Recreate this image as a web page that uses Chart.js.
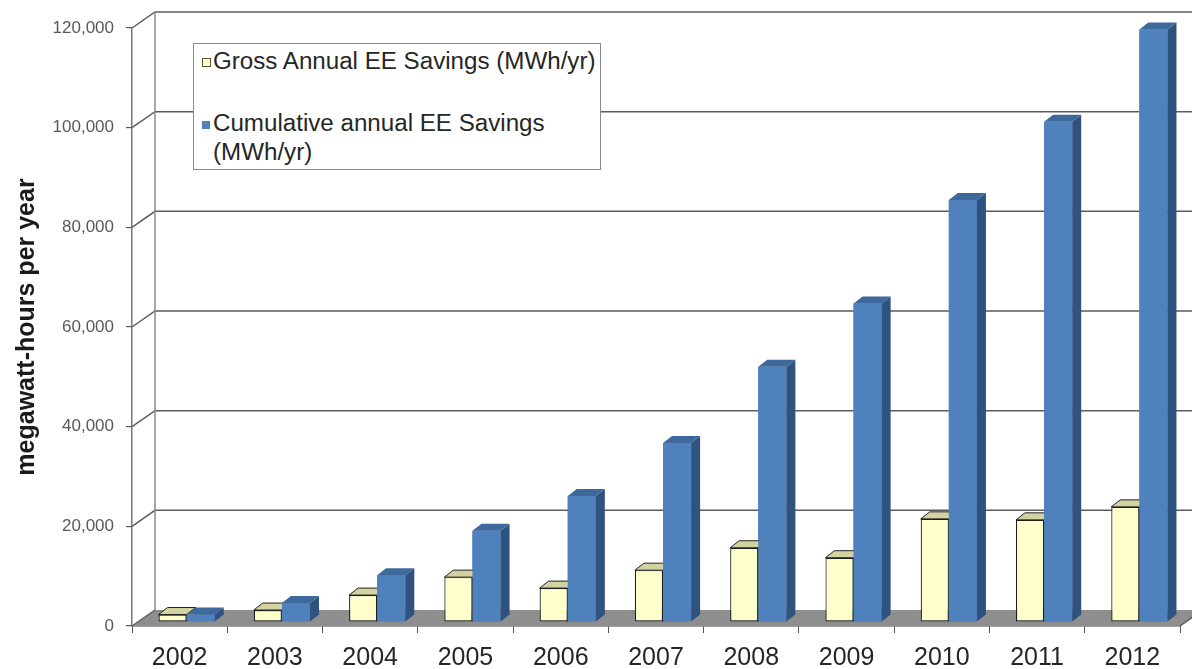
<!DOCTYPE html>
<html>
<head>
<meta charset="utf-8">
<script src="https://cdn.jsdelivr.net/npm/chart.js@4.4.1/dist/chart.umd.min.js"></script>
<style>
  html, body { margin: 0; padding: 0; background: #ffffff; }
  #wrap { position: relative; width: 1192px; height: 669px; overflow: hidden; }
  #c { position: absolute; left: 0; top: 0; }
  .legend { position: absolute; left: 193px; top: 43px; width: 406px; height: 125px;
            border: 1px solid #8a8a8a; background: #ffffff; }
  .sw { position: absolute; width: 7px; height: 7px; }
  .lt { position: absolute; font-family: "Liberation Sans", Arial, sans-serif; font-size: 23px;
        color: #262626; white-space: nowrap; line-height: 29px; transform-origin: 0 0; transform: scaleX(1.05); }
</style>
</head>
<body>
<div id="wrap">
  <canvas id="c" width="1192" height="669"></canvas>
  <div class="legend"></div>
  <div class="sw" style="left:202px; top:58px; background:#ffffcc; border:1px solid #555533;"></div>
  <div class="lt" style="left:213px; top:47px;">Gross Annual EE Savings (MWh/yr)</div>
  <div class="sw" style="left:202px; top:121px; width:8px; height:8px; background:#4f81bd;"></div>
  <div class="lt" style="left:213px; top:109px;">Cumulative annual EE Savings<br>(MWh/yr)</div>
</div>
<script>
// ---- data ----
const categories = ['2002','2003','2004','2005','2006','2007','2008','2009','2010','2011','2012'];
const grossSavings = [1500, 2400, 5400, 9000, 6800, 10400, 14900, 12900, 20700, 20500, 23100];
const cumulativeSavings = [1500, 3800, 9400, 18300, 25300, 35900, 51200, 63900, 84700, 100400, 118900];
const yTickValues = [0, 20000, 40000, 60000, 80000, 100000, 120000];
const seriesNames = ['Gross Annual EE Savings (MWh/yr)', 'Cumulative annual EE Savings (MWh/yr)'];

// ---- 3D look ----
const WALL_DX = 23, WALL_DY = -16;   // back wall offset
const BAR_DX = 7, BAR_DY = -4;       // bar front face offset from front plane
const DEP_DX = 9, DEP_DY = -7;       // bar depth
const faces = [
  { top: '#d3d3a1', side: '#c2c290', stroke: '#222222' },
  { top: '#3d699d', side: '#30527e', stroke: null }
];

function poly(ctx, pts, fill, stroke) {
  ctx.beginPath();
  ctx.moveTo(pts[0][0], pts[0][1]);
  for (let i = 1; i < pts.length; i++) ctx.lineTo(pts[i][0], pts[i][1]);
  ctx.closePath();
  ctx.fillStyle = fill; ctx.fill();
  if (stroke) { ctx.strokeStyle = stroke; ctx.lineWidth = 1; ctx.stroke(); }
}

function drawDepth(ctx, el, f) {
  const p = el.getProps(['x', 'y', 'base', 'width'], true);
  const L = p.x - p.width / 2, R = p.x + p.width / 2;
  const T = Math.min(p.y, p.base), B = Math.max(p.y, p.base);
  poly(ctx, [[R, T], [R + DEP_DX, T + DEP_DY], [R + DEP_DX, B + DEP_DY], [R, B]], f.side, f.stroke);
  poly(ctx, [[L, T], [R, T], [R + DEP_DX, T + DEP_DY], [L + DEP_DX, T + DEP_DY]], f.top, f.stroke);
}

const threeD = {
  id: 'threeD',
  beforeDatasetsDraw(chart) {
    const { ctx, chartArea: a, scales: { y } } = chart;
    const y0 = y.getPixelForValue(0);
    ctx.save();
    // floor
    poly(ctx, [[a.left, y0], [a.right, y0], [a.right + WALL_DX, y0 + WALL_DY], [a.left + WALL_DX, y0 + WALL_DY]], '#8e8e8e', null);
    ctx.strokeStyle = '#5a5a5a';
    ctx.lineWidth = 1.5;
    ctx.beginPath();
    ctx.moveTo(a.right, y0); ctx.lineTo(a.right + WALL_DX, y0 + WALL_DY);
    ctx.stroke();
    // back wall grid + side wall diagonals
    ctx.strokeStyle = '#5c5c5c';
    ctx.lineWidth = 1.5;
    yTickValues.forEach(v => {
      const py = y.getPixelForValue(v);
      ctx.beginPath();
      ctx.moveTo(a.left, py);
      ctx.lineTo(a.left + WALL_DX, py + WALL_DY);
      if (v !== 0) ctx.lineTo(a.right + WALL_DX + 20, py + WALL_DY);
      ctx.stroke();
    });
    ctx.strokeStyle = '#8a8a8a';
    ctx.lineWidth = 1.5;
    ctx.beginPath();
    ctx.moveTo(a.left + WALL_DX, y0 + WALL_DY);
    ctx.lineTo(a.left + WALL_DX, y.getPixelForValue(120000) + WALL_DY);
    ctx.stroke();
    ctx.restore();
    ctx.save();
    ctx.translate(BAR_DX, BAR_DY);
  },
  afterDatasetsDraw(chart) {
    const ctx = chart.ctx;
    const m0 = chart.getDatasetMeta(0), m1 = chart.getDatasetMeta(1);
    for (let i = 0; i < categories.length; i++) {
      drawDepth(ctx, m0.data[i], faces[0]);
      m1.data[i].draw(ctx);
      drawDepth(ctx, m1.data[i], faces[1]);
    }
    ctx.restore();
  }
};

new Chart(document.getElementById('c'), {
  type: 'bar',
  data: {
    labels: categories,
    datasets: [
      { label: seriesNames[0], data: grossSavings, backgroundColor: '#ffffcc',
        borderColor: '#1e1e1e', borderWidth: 1.2, borderSkipped: false, clip: false },
      { label: seriesNames[1], data: cumulativeSavings, backgroundColor: '#4f81bd',
        borderWidth: 0, clip: false }
    ]
  },
  plugins: [threeD],
  options: {
    responsive: false,
    animation: false,
    events: [],
    layout: { padding: { top: 28, right: 12, left: 0, bottom: 0 } },
    datasets: { bar: { categoryPercentage: 0.59, barPercentage: 1.0 } },
    plugins: { legend: { display: false }, tooltip: { enabled: false } },
    scales: {
      x: {
        grid: { offset: true, drawOnChartArea: false, drawTicks: true, tickLength: 7, color: '#555555', lineWidth: 1 },
        border: { display: true, color: '#4a4a4a', width: 1.5 },
        ticks: { font: { family: 'Liberation Sans, Arial, sans-serif', size: 25 }, color: '#262626', padding: 10, maxRotation: 0 },
        afterFit: s => { s.height = 43; }
      },
      y: {
        min: 0, max: 120000,
        afterBuildTicks: s => { s.ticks = yTickValues.map(v => ({ value: v })); },
        grid: { drawOnChartArea: false, drawTicks: true, tickLength: 6, color: '#555555', lineWidth: 1.2 },
        border: { display: true, color: '#777777', width: 1.5 },
        ticks: { font: { family: 'Liberation Sans, Arial, sans-serif', size: 17 }, color: '#595959', padding: 12,
                 callback: v => Number(v).toLocaleString('en-US') },
        title: { display: true, text: 'megawatt-hours per year',
                 font: { family: 'Liberation Sans, Arial, sans-serif', size: 25, weight: 'bold' },
                 color: '#1a1a1a', padding: { top: 12, bottom: 0 } },
        afterFit: s => { s.width = 132; }
      }
    }
  }
});
</script>
</body>
</html>
